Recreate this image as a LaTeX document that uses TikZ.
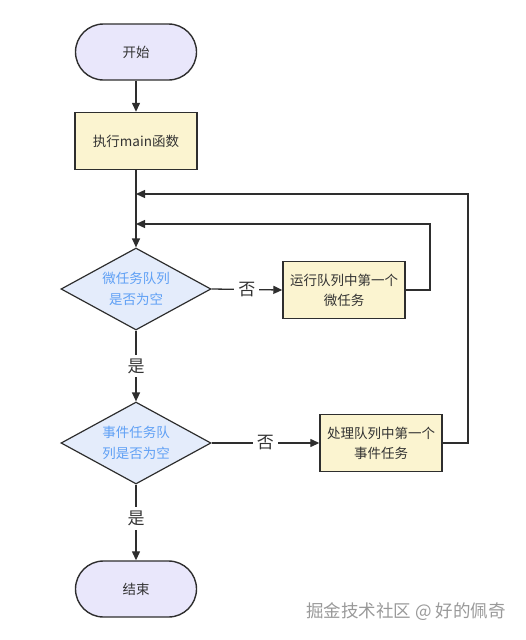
\documentclass[tikz,border=0pt]{standalone}
\usepackage{fontspec}
\setmainfont{Noto Sans CJK SC}
\usetikzlibrary{shapes.geometric,arrows.meta}
\newlength{\du}
\setlength{\du}{1pt}

\begin{document}
\begin{tikzpicture}[
	termbox/.style={draw=linecol, fill=termfill, line width=1.4\du, rounded corners=28\du, minimum width=121\du, minimum height=56\du, text=nodetext, font=\fontsize{13.5}{20}\selectfont},
	procbox/.style={draw=linecol, fill=procfill, line width=1.4\du, minimum width=122\du, minimum height=57\du, align=center, text=nodetext, font=\fontsize{13.5}{20}\selectfont},
	condbox/.style={diamond, aspect=1.83, draw=linecol, fill=condfill, line width=1.2\du, minimum width=150\du, minimum height=82\du, inner sep=0pt, align=center, text=condtext, font=\fontsize{13.5}{21}\selectfont},
	flow/.style={draw=linecol, line width=1.3\du, -{Stealth[length=9pt,width=8pt,inset=0pt]}},
	answer/.style={fill=white, text=nodetext, inner sep=4\du, font=\fontsize{17}{17}\selectfont}]
	\pgftransformxscale{1.000000}
	\pgftransformyscale{-1.000000}
	\definecolor{linecol}{rgb}{0.180000, 0.180000, 0.180000}
	\definecolor{nodetext}{rgb}{0.200000, 0.200000, 0.200000}
	\definecolor{termfill}{rgb}{0.914000, 0.906000, 0.984000}
	\definecolor{procfill}{rgb}{0.984000, 0.957000, 0.816000}
	\definecolor{condfill}{rgb}{0.894000, 0.925000, 0.984000}
	\definecolor{condtext}{rgb}{0.373000, 0.627000, 0.961000}
	\definecolor{marktext}{rgb}{0.600000, 0.600000, 0.600000}
	\useasboundingbox (0\du,0\du) rectangle (525\du,640\du);
	% nodes
	\node[termbox] (start) at (136\du,52\du){开始};
	\node[procbox] (mainfn) at (136\du,141\du){执行main函数};
	\node[condbox] (microq) at (136\du,289\du){微任务队列\\是否为空};
	\node[procbox] (runmicro) at (344\du,290\du){运行队列中第一个\\微任务};
	\node[condbox] (eventq) at (136\du,443\du){事件任务队\\列是否为空};
	\node[procbox] (runevent) at (381\du,443\du){处理队列中第一个\\事件任务};
	\node[termbox] (stop) at (136\du,589\du){结束};
	\coordinate (microback) at (430\du,224\du);
	\coordinate (eventback) at (468\du,194\du);
	% connectors
	\draw[flow] (start) -- (mainfn);
	\draw[flow] (mainfn) -- (microq);
	\draw[flow] (microq.east) -- node[answer]{否} (runmicro.west);
	\draw[flow] (microq.south) -- node[answer]{是} (eventq.north);
	\draw[flow] (eventq.east) -- node[answer]{否} (runevent.west);
	\draw[flow] (eventq.south) -- node[answer, pos=0.45]{是} (stop.north);
	\draw[flow] (runmicro.east) -| (microback) -- (microback -| mainfn.south);
	\draw[flow] (runevent.east) -| (eventback) -- (eventback -| mainfn.south);
	% watermark
	\node[text=marktext, font=\fontsize{17.5}{17.5}\selectfont] (mark) at (406\du,612\du){掘金技术社区 @ 好的佩奇};
\end{tikzpicture}
\end{document}
